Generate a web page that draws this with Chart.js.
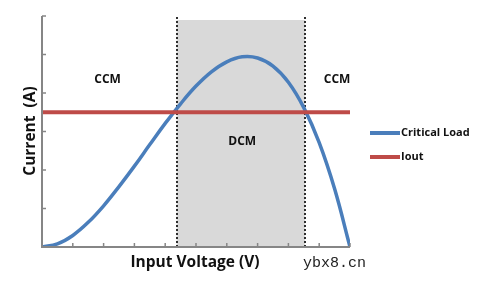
<!DOCTYPE html>
<html lang="en">
<head>
<meta charset="UTF-8">
<title>CCM / DCM</title>
<script src="https://cdn.jsdelivr.net/npm/chart.js"></script>
<style>
  body { margin: 0; background: #fff; }
  #wrap { width: 482px; height: 290px; }
</style>
</head>
<body>
<div id="wrap"><canvas id="modeChart" width="482" height="290"></canvas></div>
<script>
// values
const voltage = [0, 0.5, 1, 1.5, 2, 2.5, 3, 3.5, 4, 4.5, 5, 5.5, 6, 6.5, 7, 7.5, 8, 8.5, 9, 9.5, 10];
const criticalLoad = [0, 0.08, 0.30, 0.64, 1.07, 1.57, 2.10, 2.66, 3.21, 3.72, 4.18, 4.55, 4.81, 4.94, 4.91, 4.70, 4.28, 3.62, 2.71, 1.51, 0];
const ioutX = [0, 10];
const ioutY = [3.5, 3.5];
const dcmBounds = [4.37, 8.54];
const xTicks = [0, 1, 2, 3, 4, 5, 6, 7, 8, 9, 10];
const yTicks = [0, 1, 2, 3, 4, 5, 6];
const regionLabels = [
    { text: 'CCM', x: 2.13, y: 4.35 },
    { text: 'DCM', x: 6.5, y: 2.75 },
    { text: 'CCM', x: 9.58, y: 4.35 }
];

// shading, dotted bounds, axes, titles and legend
const decorations = {
    id: 'decorations',
    beforeDatasetsDraw(chart) {
        const ctx = chart.ctx;
        const xs = chart.scales.x, ys = chart.scales.y;
        const x0 = xs.getPixelForValue(dcmBounds[0]);
        const x1 = xs.getPixelForValue(dcmBounds[1]);
        const top = 20, bottom = ys.getPixelForValue(0);
        ctx.save();
        ctx.fillStyle = '#d9d9d9';
        ctx.fillRect(x0, top, x1 - x0, bottom - top);
        ctx.strokeStyle = '#2e2e2e';
        ctx.lineWidth = 2;
        ctx.setLineDash([2, 2]);
        dcmBounds.forEach(v => {
            const px = Math.round(xs.getPixelForValue(v));
            ctx.beginPath();
            ctx.moveTo(px, 17);
            ctx.lineTo(px, bottom);
            ctx.stroke();
        });
        ctx.setLineDash([]);

        // region labels
        ctx.fillStyle = '#111';
        ctx.font = 'bold 12px "Open Sans", sans-serif';
        ctx.textAlign = 'center';
        ctx.textBaseline = 'middle';
        regionLabels.forEach(l => {
            ctx.fillText(l.text, xs.getPixelForValue(l.x), ys.getPixelForValue(l.y));
        });
        ctx.restore();
    },
    afterDatasetsDraw(chart) {
        const ctx = chart.ctx;
        const xs = chart.scales.x, ys = chart.scales.y;
        const left = xs.getPixelForValue(0), right = xs.getPixelForValue(10);
        const top = ys.getPixelForValue(6), bottom = ys.getPixelForValue(0);
        ctx.save();
        ctx.strokeStyle = '#868686';
        ctx.lineWidth = 2;
        ctx.beginPath();
        ctx.moveTo(left, top);
        ctx.lineTo(left, bottom);
        ctx.lineTo(right, bottom);
        ctx.stroke();
        ctx.lineWidth = 1.5;
        yTicks.forEach(v => {
            const py = ys.getPixelForValue(v);
            ctx.beginPath();
            ctx.moveTo(left, py);
            ctx.lineTo(left + 4, py);
            ctx.stroke();
        });
        xTicks.forEach(v => {
            const px = xs.getPixelForValue(v);
            ctx.beginPath();
            ctx.moveTo(px, bottom);
            ctx.lineTo(px, bottom - 4);
            ctx.stroke();
        });

        // axis titles
        ctx.fillStyle = '#111';
        ctx.font = 'bold 15.5px "Open Sans", sans-serif';
        ctx.textAlign = 'center';
        ctx.textBaseline = 'middle';
        ctx.fillText('Input Voltage (V)', 195, 263);
        ctx.save();
        ctx.translate(31, 131);
        ctx.rotate(-Math.PI / 2);
        ctx.fillText('Current  (A)', 0, 0);
        ctx.restore();

        // legend
        ctx.font = 'bold 11px "Open Sans", sans-serif';
        ctx.textAlign = 'left';
        chart.data.datasets.forEach((ds, i) => {
            const ly = 133 + i * 24;
            ctx.strokeStyle = ds.borderColor;
            ctx.lineWidth = 4;
            ctx.beginPath();
            ctx.moveTo(370, ly);
            ctx.lineTo(400, ly);
            ctx.stroke();
            ctx.fillStyle = '#111';
            ctx.fillText(ds.label, 401, ly);
        });

        // watermark
        ctx.font = '15px "Liberation Mono", monospace';
        ctx.fillStyle = '#222';
        ctx.fillText('ybx8.cn', 303, 263);
        ctx.restore();
    }
};

new Chart(document.getElementById('modeChart'), {
    type: 'line',
    data: {
        datasets: [{
            label: 'Critical Load',
            data: voltage.map((v, i) => ({ x: v, y: criticalLoad[i] })),
            borderColor: '#4a7ebb',
            borderWidth: 3.5,
            pointRadius: 0,
            tension: 0.4,
            order: 1
        }, {
            label: 'Iout',
            data: ioutX.map((v, i) => ({ x: v, y: ioutY[i] })),
            borderColor: '#be4b48',
            borderWidth: 4,
            pointRadius: 0,
            order: 0
        }]
    },
    options: {
        responsive: false,
        animation: false,
        layout: { padding: { left: 42, right: 132, top: 16, bottom: 43 } },
        scales: {
            x: { type: 'linear', min: 0, max: 10, display: false },
            y: { min: 0, max: 6, display: false }
        },
        plugins: {
            legend: { display: false },
            tooltip: { enabled: false }
        }
    },
    plugins: [decorations]
});
</script>
</body>
</html>
